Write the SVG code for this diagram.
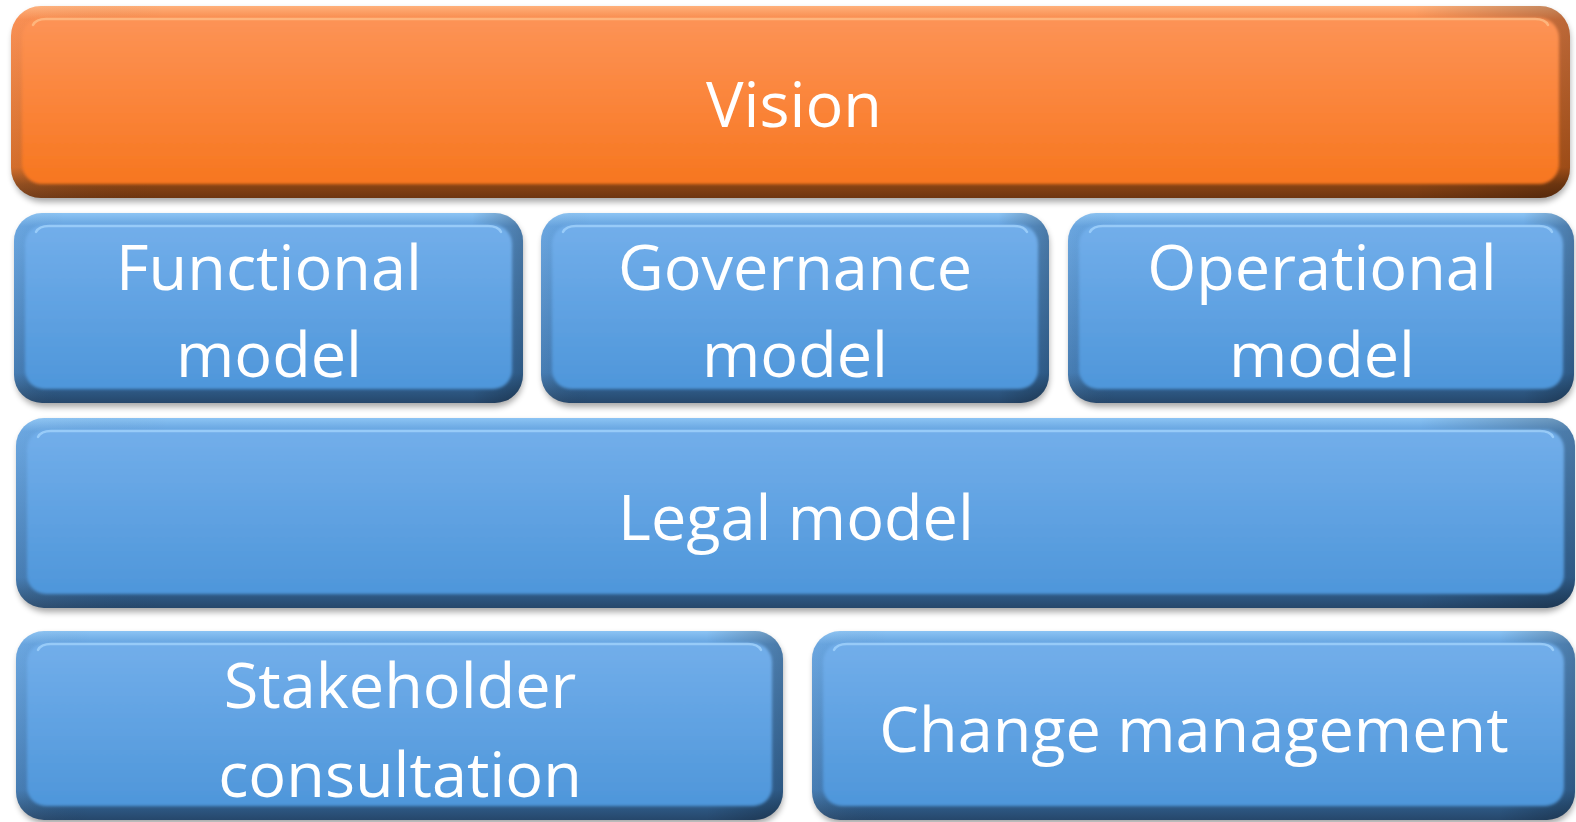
<svg xmlns="http://www.w3.org/2000/svg" width="1576" height="822" viewBox="0 0 1576 822">
<defs>
<filter id="shadow" x="-5%" y="-10%" width="110%" height="130%">
<feGaussianBlur stdDeviation="3"/>
</filter>
<filter id="soft" x="-2%" y="-5%" width="104%" height="110%">
<feGaussianBlur stdDeviation="1.4"/>
</filter>
<linearGradient id="bRim" x1="0" y1="0" x2="0" y2="1">
<stop offset="0" stop-color="#8cc4f4"/>
<stop offset="0.07" stop-color="#62a1de"/>
<stop offset="0.84" stop-color="#3c75ae"/>
<stop offset="0.93" stop-color="#2e5a86"/>
<stop offset="1" stop-color="#26476b"/>
</linearGradient>
<linearGradient id="bFace" x1="0" y1="0" x2="0" y2="1">
<stop offset="0" stop-color="#72aeea"/>
<stop offset="1" stop-color="#4e96da"/>
</linearGradient>
<linearGradient id="oRim" x1="0" y1="0" x2="0" y2="1">
<stop offset="0" stop-color="#ffb07a"/>
<stop offset="0.07" stop-color="#f8894a"/>
<stop offset="0.84" stop-color="#d0651f"/>
<stop offset="0.93" stop-color="#8a4414"/>
<stop offset="1" stop-color="#6e3510"/>
</linearGradient>
<linearGradient id="oFace" x1="0" y1="0" x2="0" y2="1">
<stop offset="0" stop-color="#fd9356"/>
<stop offset="1" stop-color="#f7761f"/>
</linearGradient>
<linearGradient id="side" x1="0" y1="0" x2="1" y2="0">
<stop offset="0" stop-color="#ffffff" stop-opacity="0.06"/>
<stop offset="0.1" stop-color="#000000" stop-opacity="0"/>
<stop offset="0.9" stop-color="#000000" stop-opacity="0"/>
<stop offset="1" stop-color="#000000" stop-opacity="0.25"/>
</linearGradient>
</defs>
<style>
.sh{fill:#000;opacity:0.35;filter:url(#shadow)}
.brim{fill:url(#bRim)}
.bface{fill:url(#bFace);filter:url(#soft)}
.orim{fill:url(#oRim)}
.oface{fill:url(#oFace);filter:url(#soft)}
.side{fill:url(#side)}
.hlb{fill:none;stroke:#a9d8ff;stroke-width:2.5;stroke-linecap:round;opacity:0.7}
.hlo{fill:none;stroke:#ffc48e;stroke-width:2.5;stroke-linecap:round;opacity:0.7}
.t{font-family:"Open Sans","Noto Sans",sans-serif;font-size:63px;fill:#ffffff;text-anchor:middle}
</style>
<rect width="1576" height="822" fill="#ffffff"/>

<g id="vision">
<rect class="sh" x="13" y="10" width="1557" height="192" rx="30"/>
<rect class="orim" x="11" y="6" width="1559" height="192" rx="30"/>
<rect class="side" x="11" y="6" width="1559" height="192" rx="30"/>
<rect class="oface" x="22" y="18" width="1537" height="166" rx="20"/>
<path class="hlo" d="M33 25 Q36 19 46 19 H1535 Q1545 19 1548 25"/>
<text class="t" x="794" y="127">Vision</text>
</g>

<g id="functional">
<rect class="sh" x="16" y="217" width="507" height="190" rx="28"/>
<rect class="brim" x="14" y="213" width="509" height="190" rx="28"/>
<rect class="side" x="14" y="213" width="509" height="190" rx="28"/>
<rect class="bface" x="25" y="225" width="487" height="164" rx="19"/>
<path class="hlb" d="M36 232 Q39 226 49 226 H488 Q498 226 501 232"/>
<text class="t" x="269" y="290">Functional</text>
<text class="t" x="269" y="377">model</text>
</g>

<g id="governance">
<rect class="sh" x="543" y="217" width="506" height="190" rx="28"/>
<rect class="brim" x="541" y="213" width="508" height="190" rx="28"/>
<rect class="side" x="541" y="213" width="508" height="190" rx="28"/>
<rect class="bface" x="552" y="225" width="486" height="164" rx="19"/>
<path class="hlb" d="M563 232 Q566 226 576 226 H1014 Q1024 226 1027 232"/>
<text class="t" x="795" y="290">Governance</text>
<text class="t" x="795" y="377">model</text>
</g>

<g id="operational">
<rect class="sh" x="1070" y="217" width="504" height="190" rx="28"/>
<rect class="brim" x="1068" y="213" width="506" height="190" rx="28"/>
<rect class="side" x="1068" y="213" width="506" height="190" rx="28"/>
<rect class="bface" x="1079" y="225" width="484" height="164" rx="19"/>
<path class="hlb" d="M1090 232 Q1093 226 1103 226 H1539 Q1549 226 1552 232"/>
<text class="t" x="1322" y="290">Operational</text>
<text class="t" x="1322" y="377">model</text>
</g>

<g id="legal">
<rect class="sh" x="18" y="422" width="1555" height="190" rx="28"/>
<rect class="brim" x="16" y="418" width="1559" height="190" rx="28"/>
<rect class="side" x="16" y="418" width="1559" height="190" rx="28"/>
<rect class="bface" x="27" y="430" width="1537" height="164" rx="19"/>
<path class="hlb" d="M38 437 Q41 431 51 431 H1540 Q1550 431 1553 437"/>
<text class="t" x="796" y="540">Legal model</text>
</g>

<g id="stakeholder">
<rect class="sh" x="18" y="635" width="765" height="189" rx="28"/>
<rect class="brim" x="16" y="631" width="767" height="189" rx="28"/>
<rect class="side" x="16" y="631" width="767" height="189" rx="28"/>
<rect class="bface" x="27" y="643" width="745" height="163" rx="19"/>
<path class="hlb" d="M38 650 Q41 644 51 644 H748 Q758 644 761 650"/>
<text class="t" x="400" y="708">Stakeholder</text>
<text class="t" x="400" y="797">consultation</text>
</g>

<g id="change">
<rect class="sh" x="814" y="635" width="761" height="189" rx="28"/>
<rect class="brim" x="812" y="631" width="763" height="189" rx="28"/>
<rect class="side" x="812" y="631" width="763" height="189" rx="28"/>
<rect class="bface" x="823" y="643" width="741" height="163" rx="19"/>
<path class="hlb" d="M834 650 Q837 644 847 644 H1540 Q1550 644 1553 650"/>
<text class="t" x="1194" y="752">Change management</text>
</g>

<g id="connectors"/>
</svg>
